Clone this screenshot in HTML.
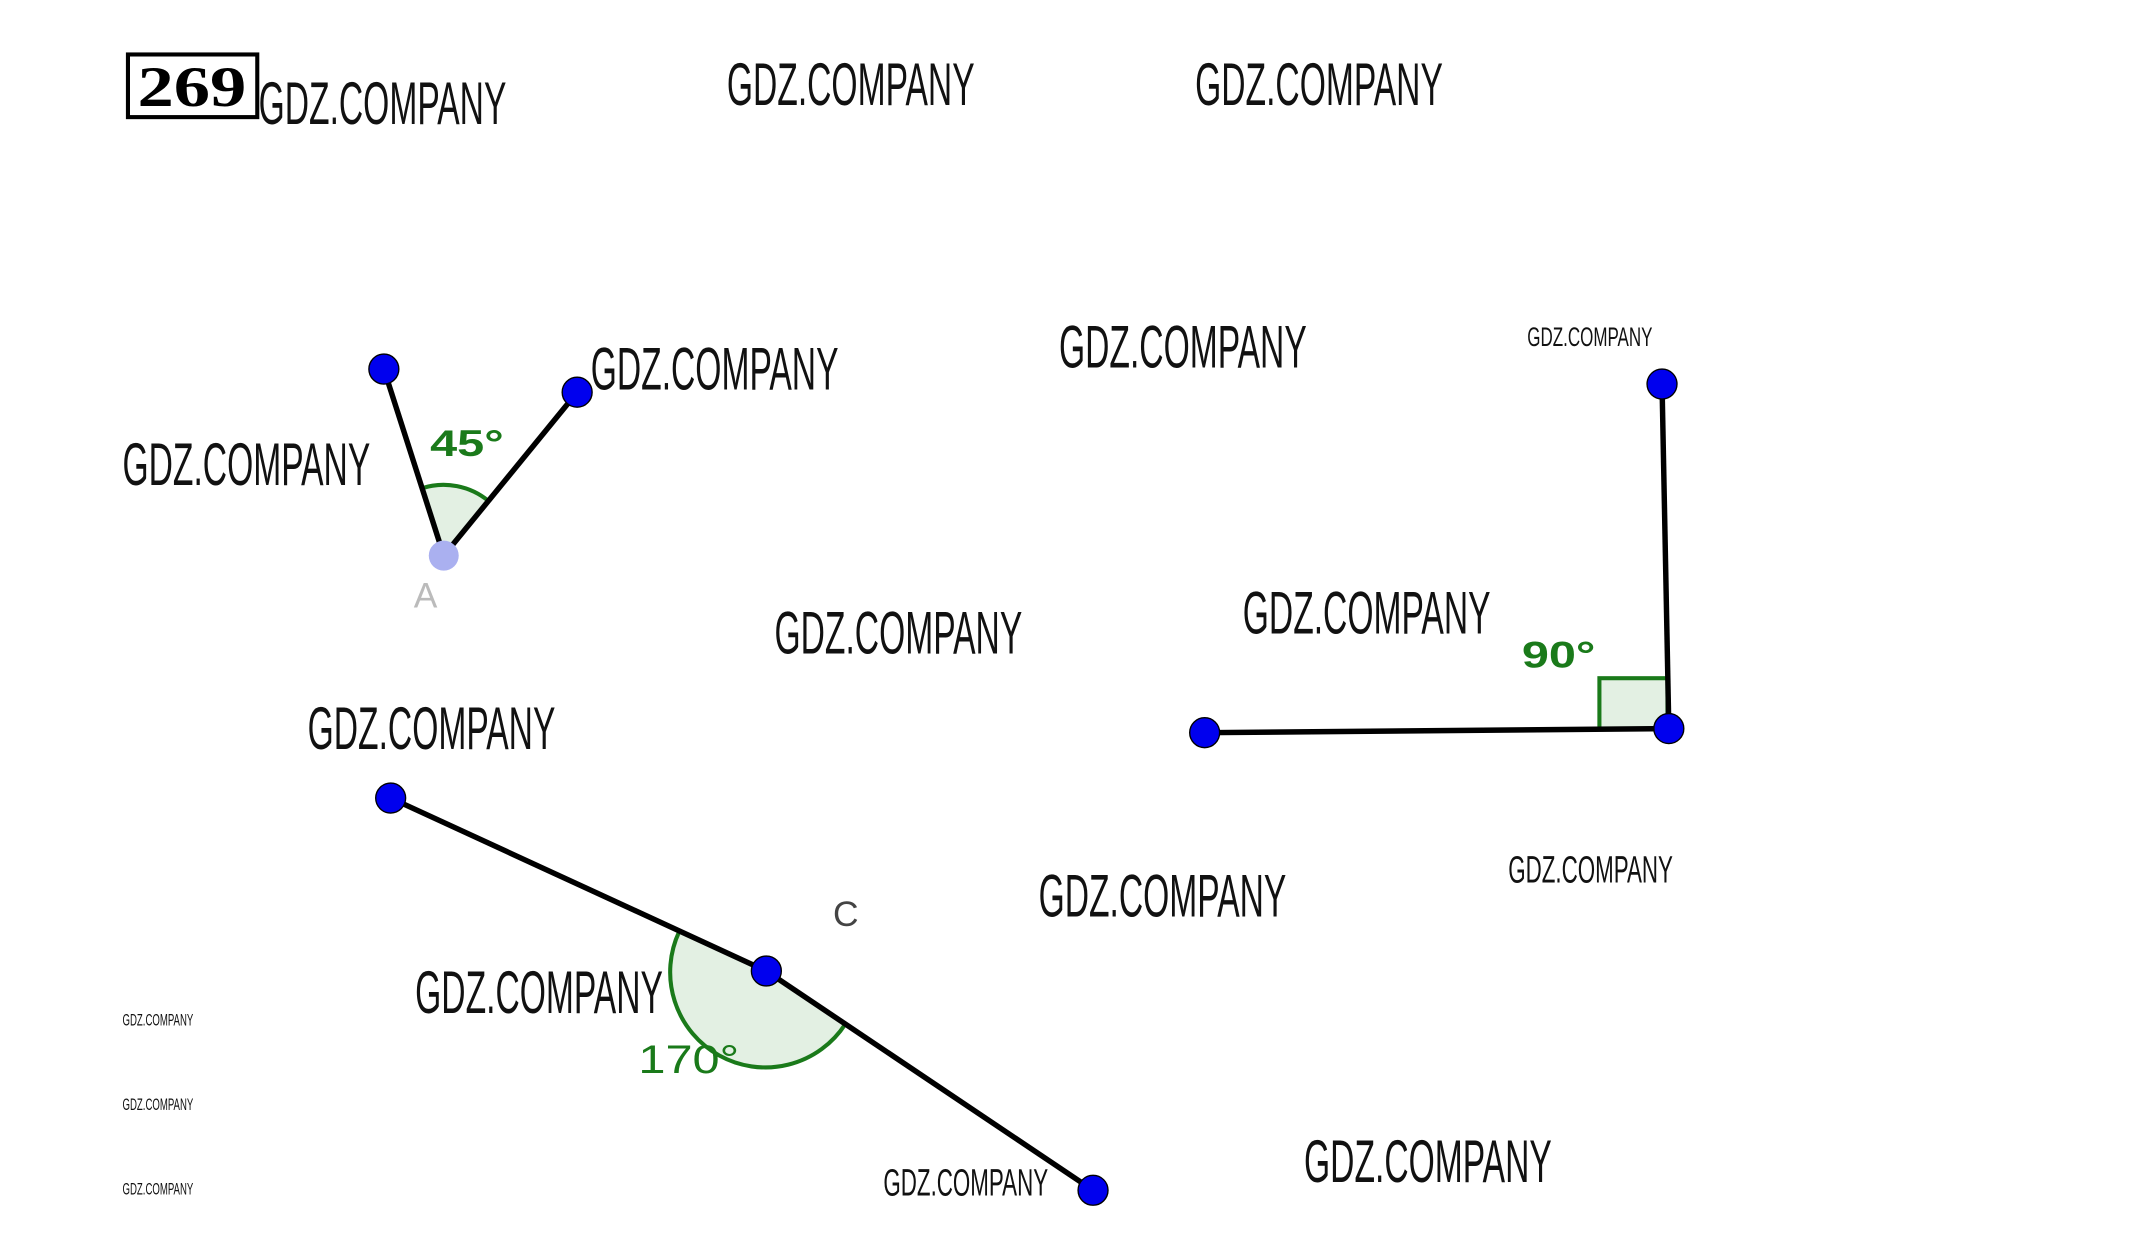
<!DOCTYPE html>
<html><head><meta charset="utf-8"><style>
html,body{margin:0;padding:0;background:#fff;width:2133px;height:1257px;overflow:hidden}
svg{display:block}
.w{font-family:"Liberation Sans",sans-serif;fill:#111}
</style></head><body>
<svg width="2133" height="1257" viewBox="0 0 1567 923" preserveAspectRatio="none">
<rect x="94" y="40" width="95" height="46" fill="none" stroke="#000" stroke-width="3"/>
<text x="141" y="78" text-anchor="middle" font-family="Liberation Serif,serif" font-weight="bold" font-size="42" textLength="80" lengthAdjust="spacingAndGlyphs">269</text>
<g class="w" font-size="44">
<text x="190" y="91" textLength="182" lengthAdjust="spacingAndGlyphs">GDZ.COMPANY</text>
<text x="534" y="77" textLength="182" lengthAdjust="spacingAndGlyphs">GDZ.COMPANY</text>
<text x="878" y="77" textLength="182" lengthAdjust="spacingAndGlyphs">GDZ.COMPANY</text>
<text x="434" y="286" textLength="182" lengthAdjust="spacingAndGlyphs">GDZ.COMPANY</text>
<text x="778" y="270" textLength="182" lengthAdjust="spacingAndGlyphs">GDZ.COMPANY</text>
<text x="90" y="356" textLength="182" lengthAdjust="spacingAndGlyphs">GDZ.COMPANY</text>
<text x="913" y="465" textLength="182" lengthAdjust="spacingAndGlyphs">GDZ.COMPANY</text>
<text x="569" y="480" textLength="182" lengthAdjust="spacingAndGlyphs">GDZ.COMPANY</text>
<text x="226" y="550" textLength="182" lengthAdjust="spacingAndGlyphs">GDZ.COMPANY</text>
<text x="763" y="673" textLength="182" lengthAdjust="spacingAndGlyphs">GDZ.COMPANY</text>
<text x="305" y="744" textLength="182" lengthAdjust="spacingAndGlyphs">GDZ.COMPANY</text>
<text x="958" y="868" textLength="182" lengthAdjust="spacingAndGlyphs">GDZ.COMPANY</text>
</g>
<g class="w">
<text x="1122" y="254" font-size="20" textLength="92" lengthAdjust="spacingAndGlyphs">GDZ.COMPANY</text>
<text x="1108" y="648" font-size="28" textLength="121" lengthAdjust="spacingAndGlyphs">GDZ.COMPANY</text>
<text x="649" y="878" font-size="28" textLength="121" lengthAdjust="spacingAndGlyphs">GDZ.COMPANY</text>
<text x="90" y="753" font-size="12" textLength="52" lengthAdjust="spacingAndGlyphs">GDZ.COMPANY</text>
<text x="90" y="815" font-size="12" textLength="52" lengthAdjust="spacingAndGlyphs">GDZ.COMPANY</text>
<text x="90" y="877" font-size="12" textLength="52" lengthAdjust="spacingAndGlyphs">GDZ.COMPANY</text>
</g>
<path d="M326 408 L310 358.5 A52 52 0 0 1 359 368 Z" fill="#e3f0e3"/>
<path d="M310 358.5 A52 52 0 0 1 359 368" fill="none" stroke="#1a7a1a" stroke-width="3"/>
<line x1="282" y1="271" x2="326" y2="408" stroke="#000" stroke-width="4"/>
<line x1="424" y1="288" x2="326" y2="408" stroke="#000" stroke-width="4"/>
<circle cx="282" cy="271" r="11" fill="#0000ee" stroke="#000" stroke-width="1"/>
<circle cx="424" cy="288" r="11" fill="#0000ee" stroke="#000" stroke-width="1"/>
<circle cx="326" cy="408" r="11" fill="#aab0f0"/>
<text x="316" y="335" font-family="Liberation Sans,sans-serif" font-weight="bold" font-size="27" fill="#1a7a1a" textLength="54" lengthAdjust="spacingAndGlyphs">45°</text>
<text x="304" y="446" font-family="Liberation Sans,sans-serif" font-size="26" fill="#bbb">A</text>
<rect x="1175" y="498" width="50" height="37" fill="#e3f0e3" stroke="#1a7a1a" stroke-width="3"/>
<line x1="1221" y1="282" x2="1226" y2="535" stroke="#000" stroke-width="4"/>
<line x1="885" y1="538" x2="1226" y2="535" stroke="#000" stroke-width="4"/>
<circle cx="1221" cy="282" r="11" fill="#0000ee" stroke="#000" stroke-width="1"/>
<circle cx="1226" cy="535" r="11" fill="#0000ee" stroke="#000" stroke-width="1"/>
<circle cx="885" cy="538" r="11" fill="#0000ee" stroke="#000" stroke-width="1"/>
<text x="1118" y="490" font-family="Liberation Sans,sans-serif" font-weight="bold" font-size="27" fill="#1a7a1a" textLength="54" lengthAdjust="spacingAndGlyphs">90°</text>
<path d="M563 713 L499 684 A70 70 0 0 0 621 752 Z" fill="#e3f0e3"/>
<path d="M499 684 A70 70 0 0 0 621 752" fill="none" stroke="#1a7a1a" stroke-width="3"/>
<line x1="287" y1="586" x2="563" y2="713" stroke="#000" stroke-width="4"/>
<line x1="563" y1="713" x2="803" y2="874" stroke="#000" stroke-width="4"/>
<circle cx="287" cy="586" r="11" fill="#0000ee" stroke="#000" stroke-width="1"/>
<circle cx="563" cy="713" r="11" fill="#0000ee" stroke="#000" stroke-width="1"/>
<circle cx="803" cy="874" r="11" fill="#0000ee" stroke="#000" stroke-width="1"/>
<text x="469" y="788" font-family="Liberation Sans,sans-serif" font-size="29" fill="#1a7a1a" textLength="74" lengthAdjust="spacingAndGlyphs">170°</text>
<text x="612" y="680" font-family="Liberation Sans,sans-serif" font-size="26" fill="#444">C</text>
</svg>
</body></html>
